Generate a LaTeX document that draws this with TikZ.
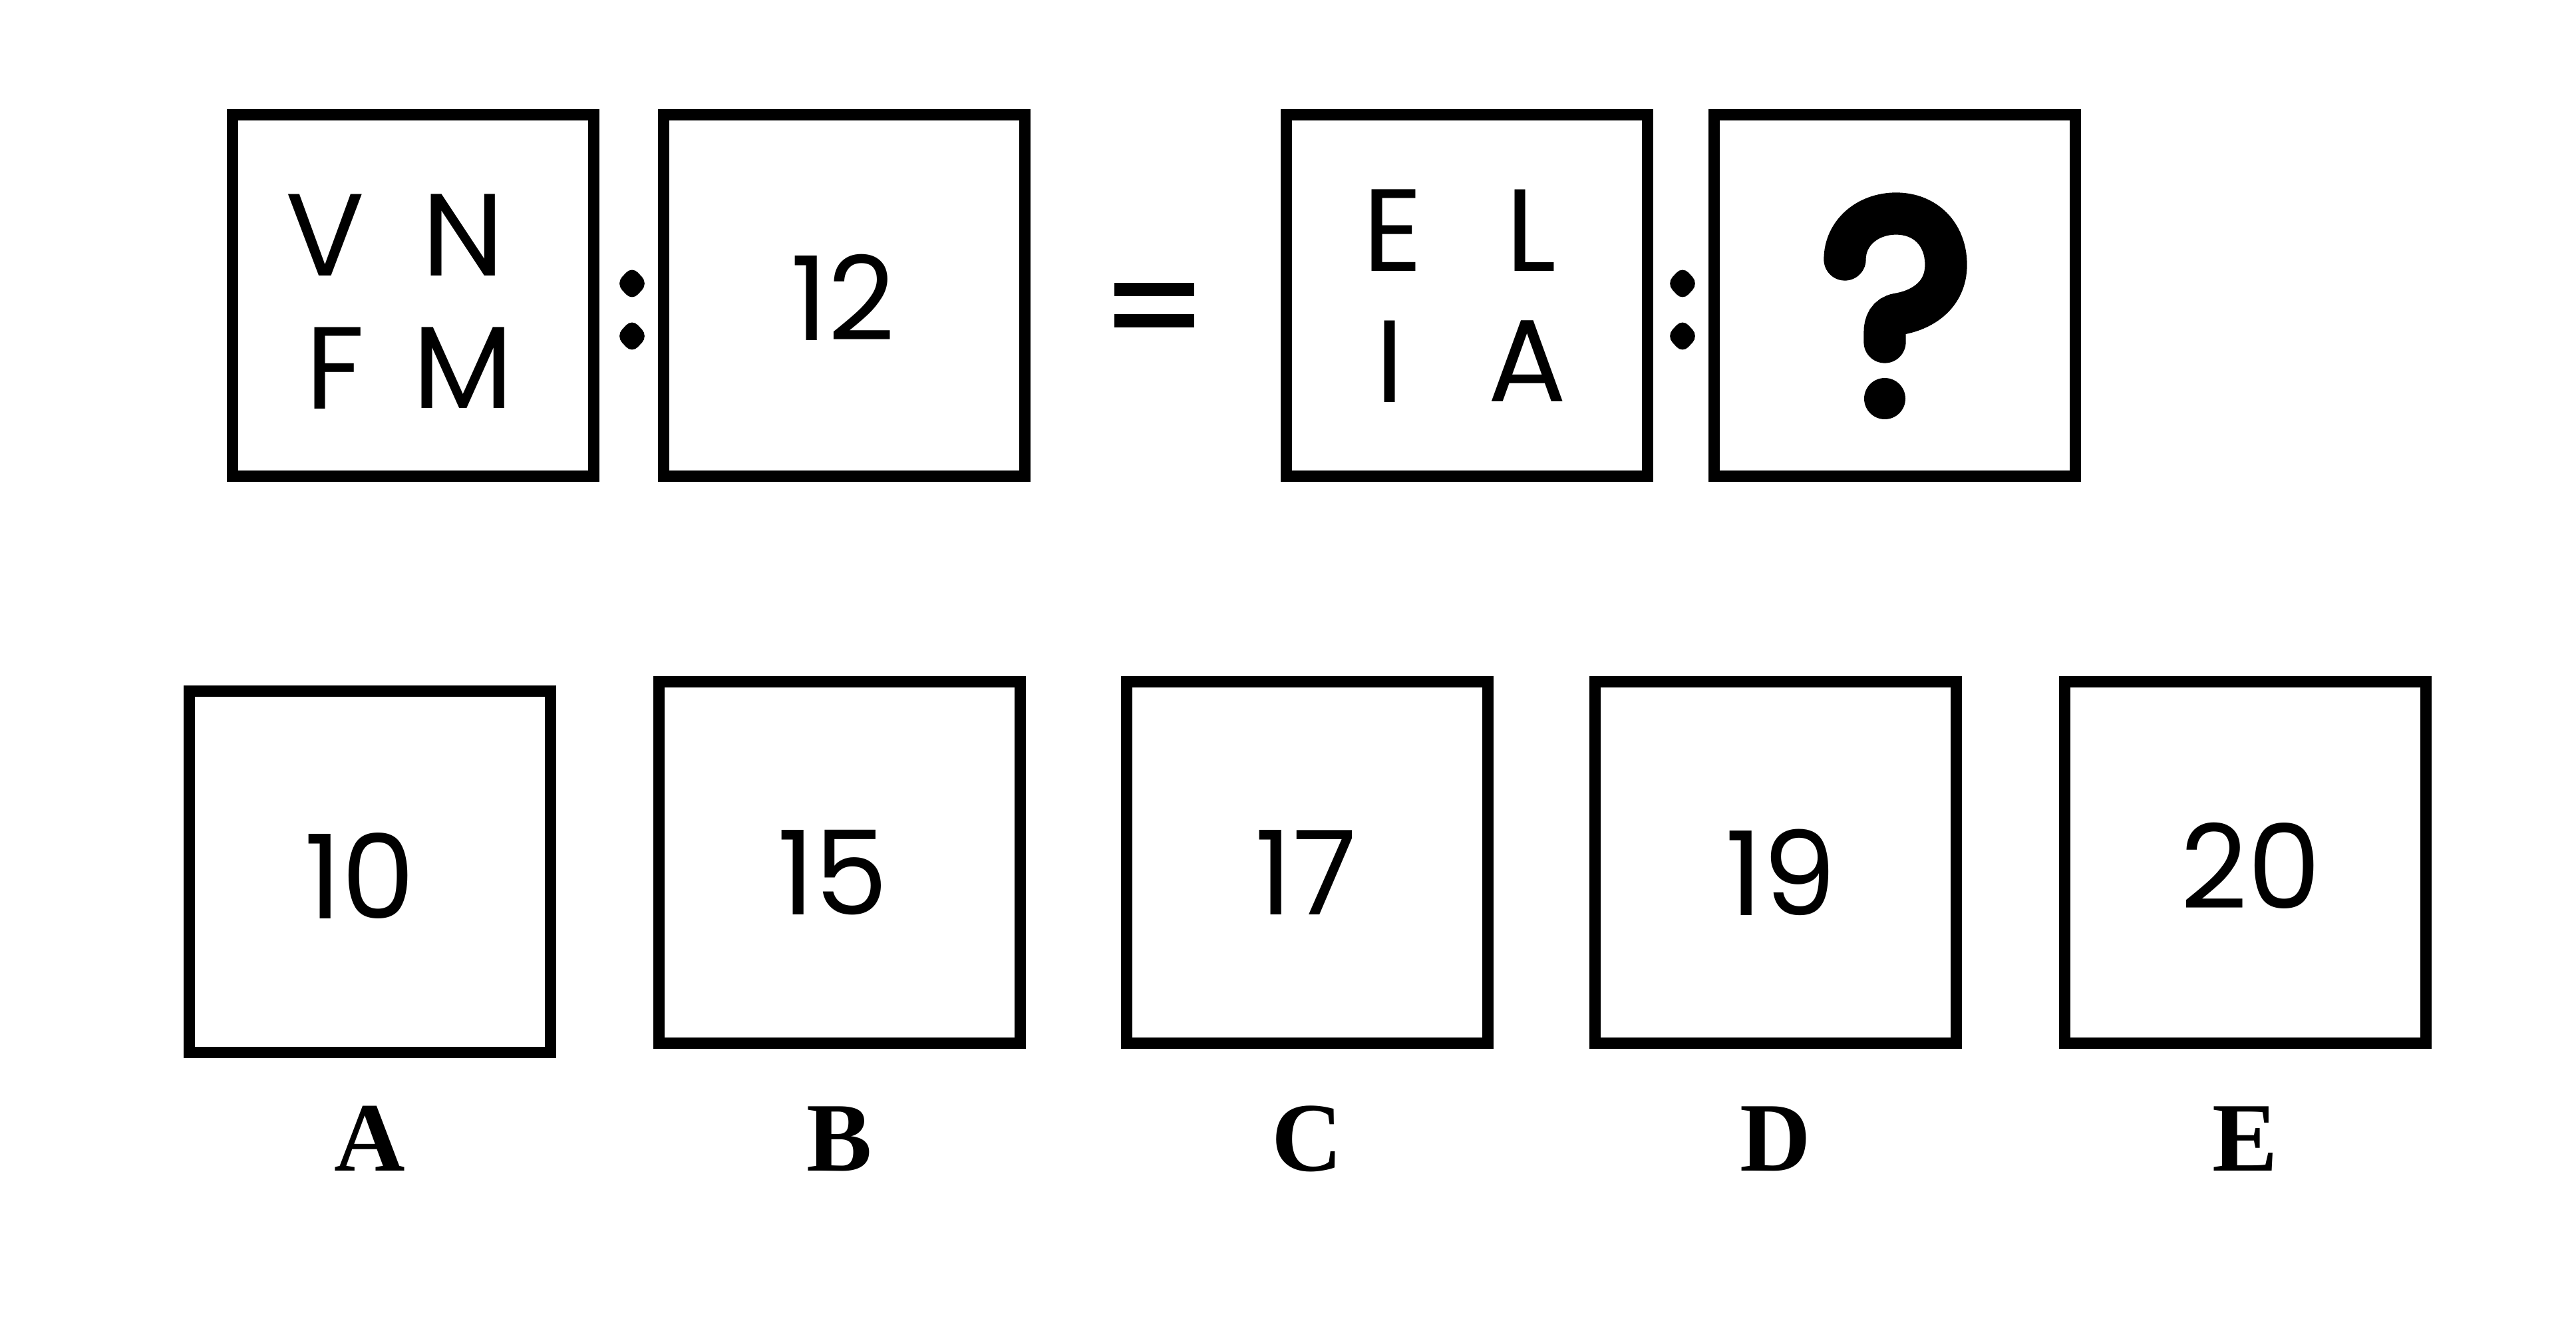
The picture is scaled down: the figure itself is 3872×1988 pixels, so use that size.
\documentclass[tikz,border=0pt]{standalone}
\usepackage{fontspec}
\setmainfont{Poppins}
\newfontfamily\tagfont{Liberation Serif}
\usetikzlibrary{positioning}

\begin{document}
\begin{tikzpicture}[x=0.1mm,y=-0.1mm,
		card/.style={draw, line width=4.6pt, minimum width=5.43cm, minimum height=5.43cm, inner sep=0pt},
		glyph/.style={inner sep=0pt, font=\fontsize{50}{50}\selectfont},
		tag/.style={inner sep=0pt, font=\tagfont\bfseries\fontsize{42}{42}\selectfont},
		dotmark/.style={rounded corners=1.3mm}]
		\useasboundingbox (0,0) rectangle (3872,1988);
		
		% question row
		\node[card] (vnfm) at (621,444) {};
		\node[card] (twelve) at (1269,444) {};
		\node[card] (elia) at (2205,444) {};
		\node[card] (ask) at (2848,444) {};
		
		\node[glyph] (v) at (489,353) {V};
		\node[glyph] (n) at (696,353) {N};
		\node[glyph] (f) at (504,553) {F};
		\node[glyph] (m) at (696,553) {M};
		\node[glyph] (num12) at (1267,447) {12};
		
		\node[glyph] (e) at (2094,346) {E};
		\node[glyph] (l) at (2301,346) {L};
		\node[glyph] (i) at (2089,543) {I};
		\node[glyph] (a) at (2296,543) {A};
		
		% question mark
		\draw[line width=18pt, line cap=round] (2773,390) .. controls (2773,350) and (2807,321) .. (2850,321)
		.. controls (2894,321) and (2925,352) .. (2925,398)
		.. controls (2925,443) and (2890,466) .. (2853,472)
		.. controls (2838,475) and (2833,486) .. (2833,500) -- (2833,514);
		\fill (2833,599) circle[radius=3.1mm];
		
		% colons and equals
		\foreach \cx in {950,2529}{
			\foreach \cy in {426,505}{
				\fill[dotmark] (\cx,\cy-26) -- (\cx+24,\cy) -- (\cx,\cy+26) -- (\cx-24,\cy) -- cycle;
			}
		}
		\fill (1675,425) rectangle (1795,445);
		\fill (1675,472) rectangle (1795,492);
		
		% answer row
		\node[card] (optA) at (556,1310) {};
		\node[card] (optB) at (1262,1296) {};
		\node[card] (optC) at (1965,1296) {};
		\node[card] (optD) at (2669,1296) {};
		\node[card] (optE) at (3375,1296) {};
		
		\node[glyph] (num10) at (541,1316) {10};
		\node[glyph] (num15) at (1252,1311) {15};
		\node[glyph] (num17) at (1963,1311) {17};
		\node[glyph] (num19) at (2677,1311) {19};
		\node[glyph] (num20) at (3383,1301) {20};
		
		\node[tag] (tagA) at (556,1711) {A};
		\node[tag] (tagB) at (1262,1711) {B};
		\node[tag] (tagC) at (1965,1711) {C};
		\node[tag] (tagD) at (2669,1711) {D};
		\node[tag] (tagE) at (3375,1711) {E};
	\end{tikzpicture}
\end{document}
